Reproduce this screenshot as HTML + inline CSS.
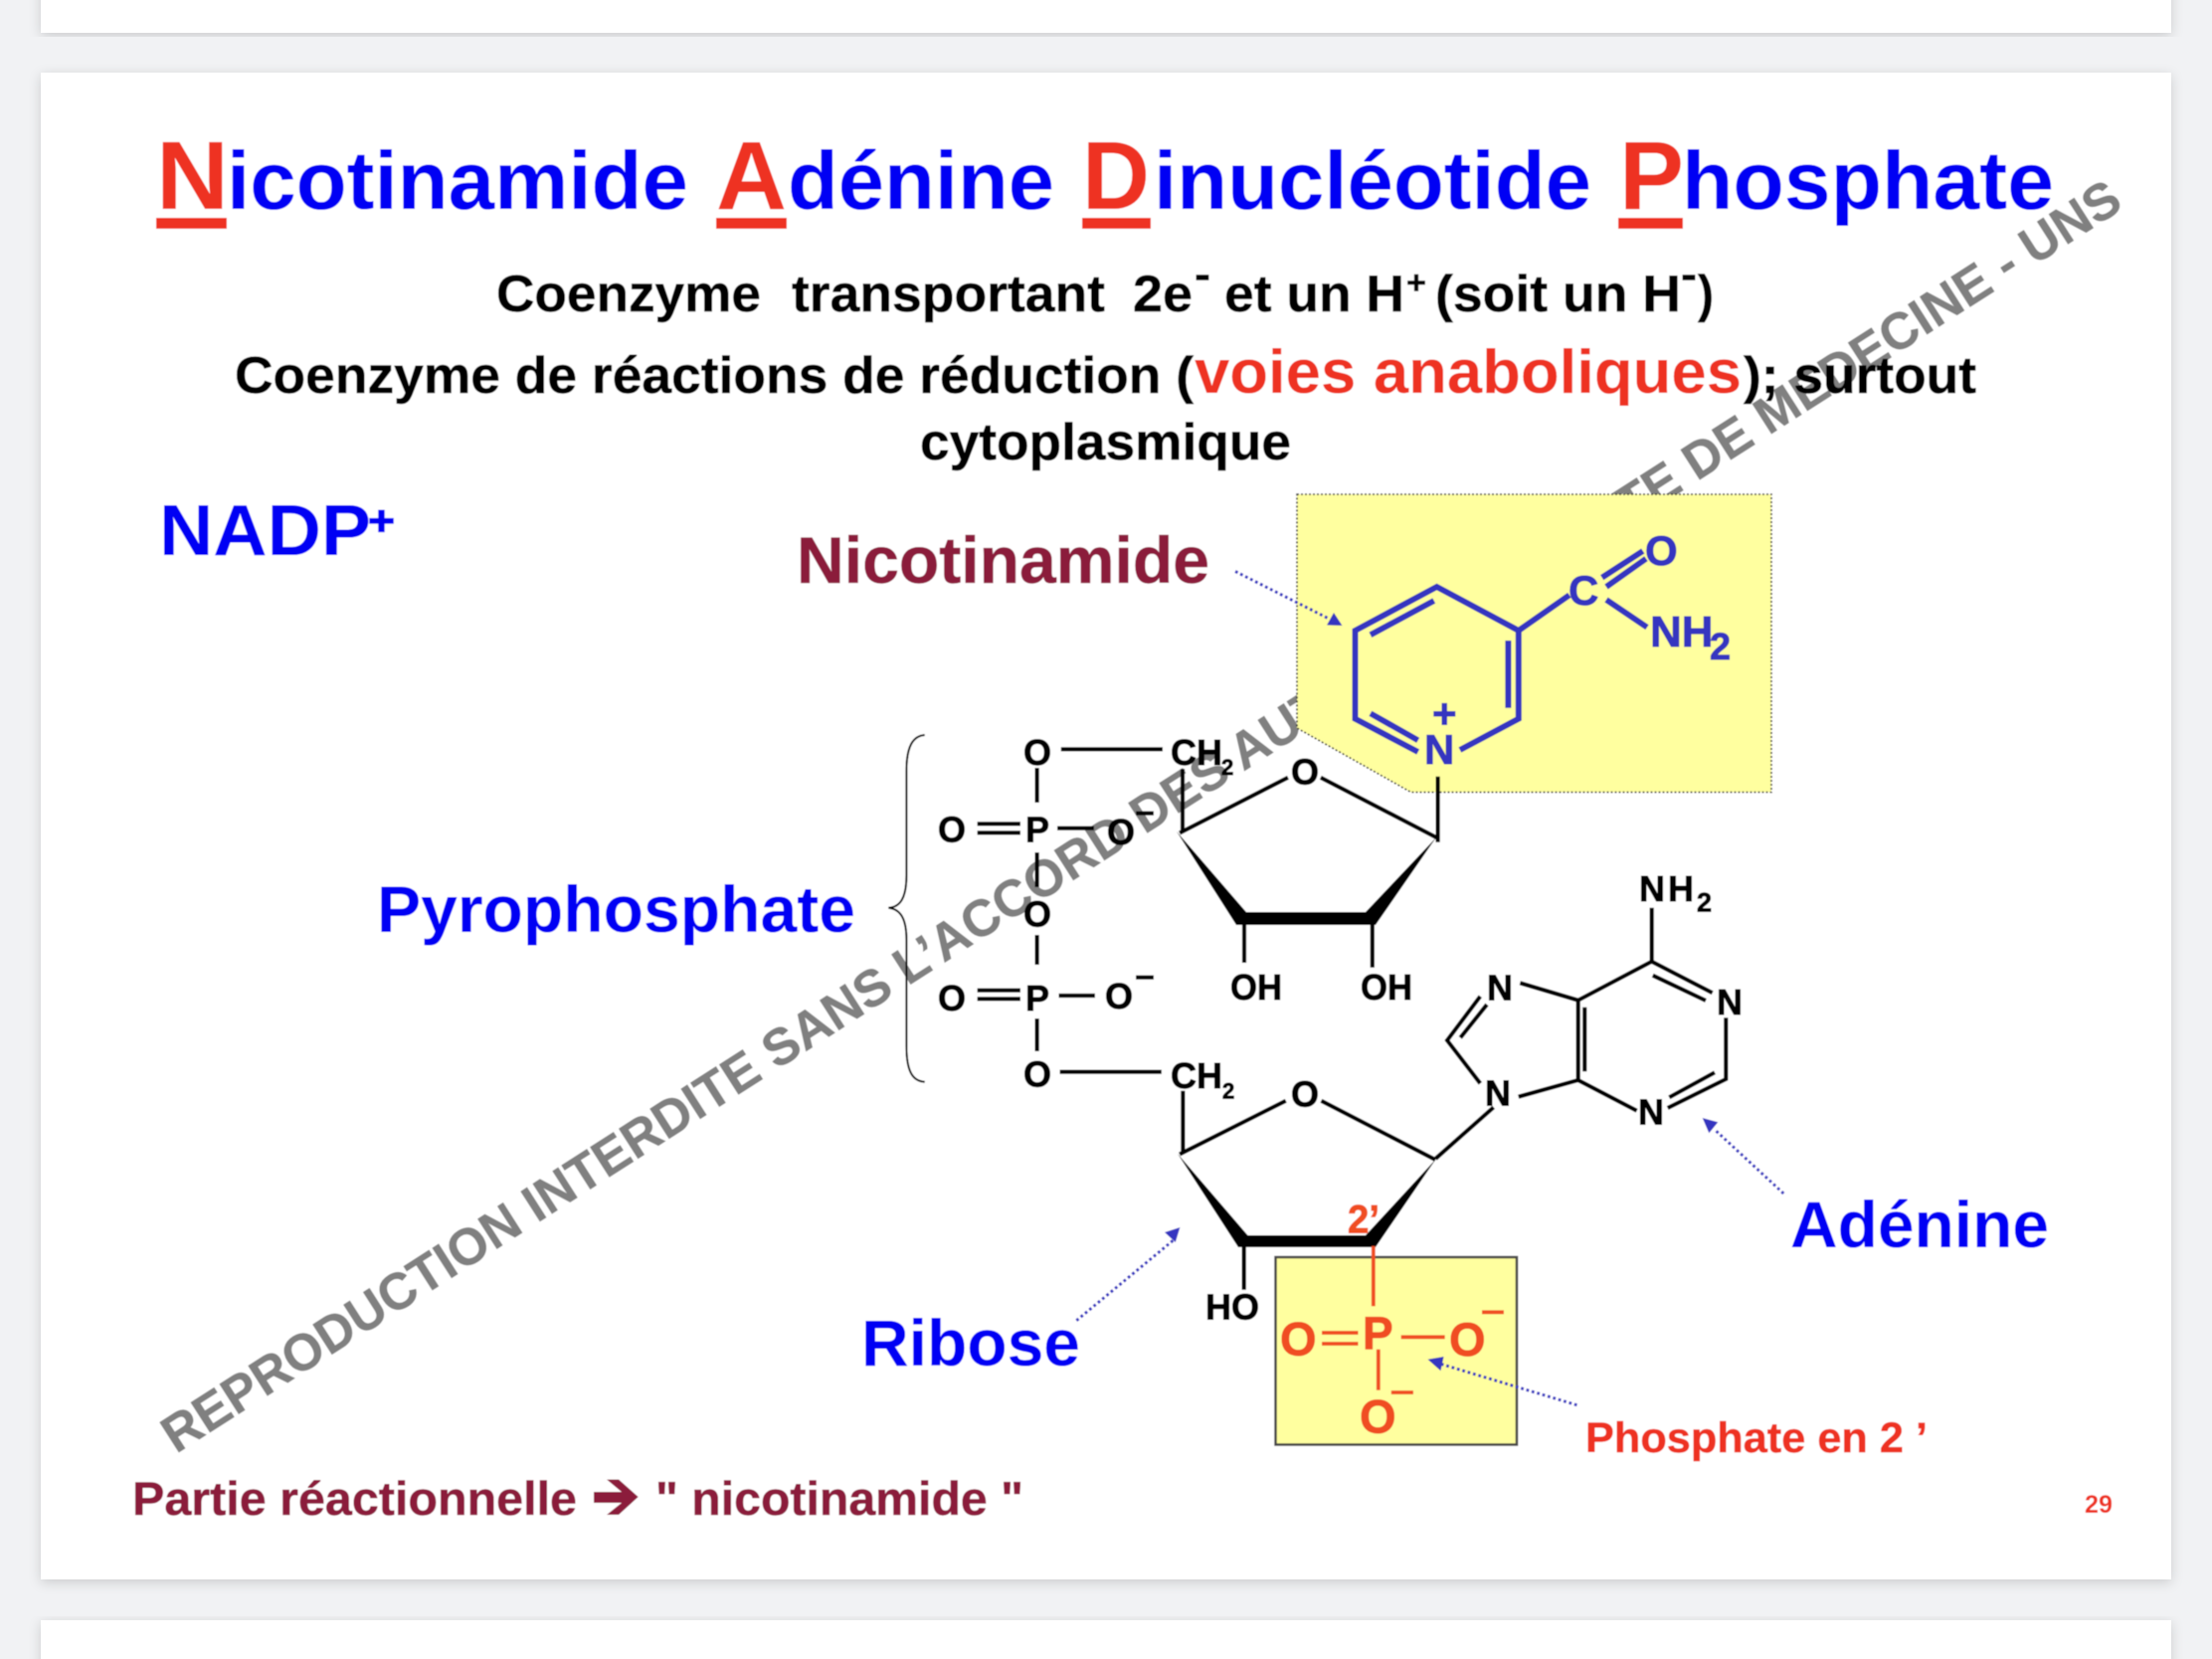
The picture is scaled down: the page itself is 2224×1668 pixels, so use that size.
<!DOCTYPE html>
<html><head><meta charset="utf-8"><style>
html,body{margin:0;padding:0;background:#f1f2f4;width:2224px;height:1668px;overflow:hidden}
svg{display:block}
text{font-family:"Liberation Sans",Arial,sans-serif;font-weight:bold}
</style></head><body>
<svg xmlns="http://www.w3.org/2000/svg" width="2224" height="1668" viewBox="0 0 2224 1668">
<defs>
<filter id="sh" x="-5%" y="-5%" width="110%" height="110%"><feDropShadow dx="0" dy="3" stdDeviation="6" flood-color="#000" flood-opacity="0.16"/></filter>
<filter id="soft" x="0" y="0" width="100%" height="100%" filterUnits="objectBoundingBox"><feGaussianBlur stdDeviation="0.45"/></filter>
</defs>
<rect x="0" y="0" width="2224" height="1668" fill="#f1f2f4"/>
<rect x="41" y="-40" width="2142" height="73" fill="#fff" filter="url(#sh)"/>
<rect x="41" y="73" width="2142" height="1515" fill="#fff" filter="url(#sh)"/>
<rect x="41" y="1629" width="2142" height="80" fill="#fff" filter="url(#sh)"/>

<g filter="url(#soft)">
<rect x="41" y="73" width="2142" height="1515" fill="#fff"/>
<!-- watermark -->
<text transform="translate(177,1462) rotate(-32.6)" font-size="52" fill="#808080" stroke="#808080" stroke-width="0.5" textLength="2326" lengthAdjust="spacingAndGlyphs">REPRODUCTION INTERDITE SANS L’ACCORD DES AUTEURS - FACULTE DE MEDECINE - UNS</text>

<!-- title -->
<g font-size="97" fill="#ee3224">
<text x="157" y="210" textLength="73" lengthAdjust="spacingAndGlyphs">N</text>
<text x="720" y="210" textLength="71" lengthAdjust="spacingAndGlyphs">A</text>
<text x="1088" y="210" textLength="68" lengthAdjust="spacingAndGlyphs">D</text>
<text x="1628" y="210" textLength="65" lengthAdjust="spacingAndGlyphs">P</text>
</g>
<g fill="#ee3224">
<rect x="157" y="219" width="71" height="11"/>
<rect x="720" y="219" width="71" height="11"/>
<rect x="1088" y="219" width="69" height="11"/>
<rect x="1627" y="219" width="65" height="11"/>
</g>
<g font-size="83" fill="#0000f4">
<text x="228" y="210" textLength="464" lengthAdjust="spacingAndGlyphs">icotinamide</text>
<text x="792" y="210" textLength="268" lengthAdjust="spacingAndGlyphs">dénine</text>
<text x="1160" y="210" textLength="440" lengthAdjust="spacingAndGlyphs">inucléotide</text>
<text x="1691" y="210" textLength="374" lengthAdjust="spacingAndGlyphs">hosphate</text>
</g>

<!-- subtitle lines -->
<g font-size="52" fill="#000" stroke="#000" stroke-width="0.5">
<text x="499" y="313" textLength="266" lengthAdjust="spacingAndGlyphs">Coenzyme</text>
<text x="796" y="313" textLength="315" lengthAdjust="spacingAndGlyphs">transportant</text>
<text x="1139" y="313" textLength="60" lengthAdjust="spacingAndGlyphs">2e</text>
<text x="1201" y="290" font-size="42" textLength="16" lengthAdjust="spacingAndGlyphs">-</text>
<text x="1231" y="313" textLength="181" lengthAdjust="spacingAndGlyphs">et un H</text>
<text x="1414" y="295" font-size="32" textLength="20" lengthAdjust="spacingAndGlyphs">+</text>
<text x="1443" y="313" textLength="247" lengthAdjust="spacingAndGlyphs">(soit un H</text>
<text x="1690" y="290" font-size="42" textLength="16" lengthAdjust="spacingAndGlyphs">-</text>
<text x="1707" y="313" textLength="16" lengthAdjust="spacingAndGlyphs">)</text>
<text x="236" y="395" textLength="964" lengthAdjust="spacingAndGlyphs">Coenzyme de réactions de réduction (</text>
<text x="1753" y="395" textLength="234" lengthAdjust="spacingAndGlyphs">); surtout</text>
<text x="925" y="462" textLength="373" lengthAdjust="spacingAndGlyphs">cytoplasmique</text>
</g>
<text x="1201" y="395" font-size="62" fill="#ee3224" textLength="550" lengthAdjust="spacingAndGlyphs">voies anaboliques</text>

<!-- big labels -->
<text x="160" y="558" font-size="72" fill="#0000f4" textLength="213" lengthAdjust="spacingAndGlyphs">NADP</text>
<text x="370" y="538" font-size="42" fill="#0000f4" stroke="#0000f4" stroke-width="1.2" textLength="27" lengthAdjust="spacingAndGlyphs">+</text>
<text x="801" y="586" font-size="66" fill="#8b1a3a" stroke="#8b1a3a" stroke-width="0.5" textLength="415" lengthAdjust="spacingAndGlyphs">Nicotinamide</text>
<text x="379" y="937" font-size="66" fill="#0000f4" textLength="481" lengthAdjust="spacingAndGlyphs">Pyrophosphate</text>
<text x="1800" y="1254" font-size="66" fill="#0000f4" textLength="260" lengthAdjust="spacingAndGlyphs">Adénine</text>
<text x="866" y="1373" font-size="66" fill="#0000f4" textLength="220" lengthAdjust="spacingAndGlyphs">Ribose</text>
<g font-size="47" fill="#8b1a3a" stroke="#8b1a3a" stroke-width="0.5">
<text x="133" y="1523" textLength="447" lengthAdjust="spacingAndGlyphs">Partie réactionnelle</text>
<text x="659" y="1523" textLength="370" lengthAdjust="spacingAndGlyphs">" nicotinamide "</text>
</g>
<polygon points="597,1500 625,1500 610,1487.5 622,1487.5 641.7,1505 622,1523 610,1523 625,1511 597,1511" fill="#8b1a3a"/>
<text x="1594" y="1460" font-size="43" fill="#ee3224" stroke="#ee3224" stroke-width="0.5" textLength="344" lengthAdjust="spacingAndGlyphs">Phosphate en 2 ’</text>
<text x="2096" y="1521" font-size="25" fill="#ee3224" textLength="28" lengthAdjust="spacingAndGlyphs">29</text>

<!-- yellow boxes -->
<polygon points="1304,497 1781,497 1781,796.5 1418.6,796.5 1304,732" fill="#ffff9f" stroke="#333" stroke-width="1.6" stroke-dasharray="2 2"/>
<rect x="1282.5" y="1264" width="242.5" height="188.5" fill="#ffff9f" stroke="#444" stroke-width="2.5"/>

<!-- nicotinamide -->
<g stroke="#3535c0" stroke-width="6" fill="none" stroke-linecap="butt">
<polyline points="1425.7,756 1362.5,722.7 1362.5,634 1444.6,590 1526.8,634 1526.8,722.7 1467.9,754" stroke-linejoin="miter"/>
<line x1="1377.9" y1="638.3" x2="1441.8" y2="604"/>
<line x1="1516.4" y1="644" x2="1516.4" y2="711.7"/>
<line x1="1377.9" y1="717.3" x2="1425.7" y2="744.3"/>
<line x1="1526.8" y1="634" x2="1577.9" y2="598.3"/>
<line x1="1610.7" y1="580.7" x2="1651.8" y2="554"/>
<line x1="1615" y1="590" x2="1655" y2="561.7"/>
<line x1="1615" y1="603" x2="1656" y2="630.7"/>
</g>
<g fill="#3535c0" stroke="#3535c0" stroke-width="0.9" font-size="42">
<text x="1577" y="608">C</text>
<text x="1654" y="568">O</text>
<text x="1659" y="650" font-size="44">NH</text>
<text x="1719" y="663" font-size="38">2</text>
<text x="1432" y="768">N</text>
<text x="1440" y="732">+</text>
</g>

<!-- dotted arrows -->
<g stroke="#3535c0" stroke-width="3" stroke-dasharray="2.8 2.8" fill="none">
<line x1="1242" y1="574.5" x2="1336" y2="622"/>
<line x1="1793.3" y1="1200" x2="1725" y2="1136.7"/>
<line x1="1082.3" y1="1327.7" x2="1180" y2="1246.7"/>
<line x1="1585.5" y1="1412.7" x2="1449.7" y2="1371.7"/>
</g>
<g fill="#3535c0">
<polygon points="1341,616 1334,628.5 1349.5,629"/>
<polygon points="1711.7,1124 1727.3,1128.3 1718.3,1139.3"/>
<polygon points="1186.4,1234 1171,1239 1181.8,1249"/>
<polygon points="1435.5,1366.7 1451.6,1364 1448.5,1378.3"/>
</g>

<!-- brace -->
<path d="M929.7,739 C918,740 911.4,750 911.4,775 L911.4,880 C911.4,903 905,912 893.4,912.7 C905,914 911.4,923 911.4,945 L911.4,1052 C911.4,1078 918,1087 929.7,1087.7" fill="none" stroke="#000" stroke-width="2"/>

<!-- black bonds -->
<g stroke="#000" stroke-width="4.2" fill="none">
<line x1="1066.8" y1="753.3" x2="1169" y2="753.3"/>
<line x1="1042.6" y1="772" x2="1042.6" y2="807"/>
<line x1="982.6" y1="828.3" x2="1026" y2="828.3"/>
<line x1="982.6" y1="837.3" x2="1026" y2="837.3"/>
<line x1="1063" y1="832.7" x2="1100" y2="832.7"/>
<line x1="1142" y1="817.7" x2="1160" y2="817.7"/>
<line x1="1042.6" y1="857" x2="1042.6" y2="892"/>
<line x1="1042.6" y1="940" x2="1042.6" y2="970"/>
<line x1="982.6" y1="995.7" x2="1026" y2="995.7"/>
<line x1="982.6" y1="1004.3" x2="1026" y2="1004.3"/>
<line x1="1064.5" y1="1001" x2="1101" y2="1001"/>
<line x1="1142" y1="982.7" x2="1160" y2="982.7"/>
<line x1="1042.6" y1="1024" x2="1042.6" y2="1057"/>
<line x1="1065.6" y1="1077.7" x2="1167.8" y2="1077.7"/>
<!-- ribose 1 -->
<line x1="1189" y1="773" x2="1189" y2="835"/>
<line x1="1186" y1="837.5" x2="1295" y2="781.7"/>
<line x1="1327.8" y1="781.7" x2="1445.6" y2="842.7"/>
<line x1="1445.6" y1="780.7" x2="1445.6" y2="846.7"/>
<line x1="1251" y1="928" x2="1251" y2="968"/>
<line x1="1379.8" y1="928" x2="1379.8" y2="972.7"/>
<!-- ribose 2 -->
<line x1="1189.4" y1="1096.7" x2="1189.4" y2="1160"/>
<line x1="1186" y1="1160.5" x2="1292.8" y2="1106.7"/>
<line x1="1328.4" y1="1106.7" x2="1443.2" y2="1166"/>
<line x1="1250.7" y1="1253" x2="1250.7" y2="1296.7"/>
<!-- adenine -->
<line x1="1660.7" y1="912.7" x2="1660.7" y2="966.7"/>
<polyline points="1586.7,1005.7 1660.7,966.7 1721.7,998.3"/>
<line x1="1661.7" y1="980.7" x2="1715" y2="1006"/>
<polyline points="1735.3,1023.3 1735.3,1085 1676.7,1114"/>
<line x1="1724" y1="1078.3" x2="1678.3" y2="1103.3"/>
<line x1="1586.7" y1="1086" x2="1645.7" y2="1116.7"/>
<line x1="1586.7" y1="1005" x2="1586.7" y2="1086.7"/>
<line x1="1593.3" y1="1012.7" x2="1593.3" y2="1077.3"/>
<line x1="1528.3" y1="988.3" x2="1586.7" y2="1005.7"/>
<line x1="1526.7" y1="1102.7" x2="1586.7" y2="1086"/>
<polyline points="1488.3,1001.7 1455,1046 1488.3,1089.3"/>
<line x1="1468.3" y1="1043.3" x2="1495" y2="1010"/>
<line x1="1501.7" y1="1113.3" x2="1443.3" y2="1165"/>
</g>
<g fill="#000">
<polygon points="1183,836 1253,917 1373,917 1444,842 1383,930 1243,930"/>
<polygon points="1184,1160 1254.5,1242 1373,1242 1444,1165 1383,1254 1245,1254"/>
</g>
<g fill="#000" stroke="#000" stroke-width="0.9" font-size="36">
<text x="1029" y="769">O</text>
<text x="1177" y="769">CH</text>
<text x="1228" y="779" font-size="22">2</text>
<text x="943" y="846.7">O</text>
<text x="1031" y="846.7">P</text>
<text x="1113" y="849">O</text>
<text x="1029" y="931.7">O</text>
<text x="943" y="1016">O</text>
<text x="1031" y="1016">P</text>
<text x="1111" y="1014">O</text>
<text x="1029" y="1092.7">O</text>
<text x="1177" y="1094">CH</text>
<text x="1229" y="1104.5" font-size="22">2</text>
<text x="1298" y="788.3">O</text>
<text x="1298" y="1112.3">O</text>
<text x="1237" y="1005" textLength="52" lengthAdjust="spacingAndGlyphs">OH</text>
<text x="1368" y="1005" textLength="52" lengthAdjust="spacingAndGlyphs">OH</text>
<text x="1212" y="1326.7" textLength="54" lengthAdjust="spacingAndGlyphs">HO</text>
<text x="1648" y="906">N</text>
<text x="1677" y="906">H</text>
<text x="1706" y="916.7" font-size="27">2</text>
<text x="1726" y="1020">N</text>
<text x="1647" y="1130.7">N</text>
<text x="1495" y="1005.7">N</text>
<text x="1493" y="1111.7">N</text>
</g>

<!-- phosphate -->
<g stroke="#f04e23" stroke-width="3.8" fill="none">
<line x1="1380.8" y1="1252.7" x2="1380.8" y2="1313.3"/>
<line x1="1329" y1="1340" x2="1365.5" y2="1340"/>
<line x1="1329" y1="1351" x2="1365.5" y2="1351"/>
<line x1="1408.7" y1="1344.3" x2="1452.7" y2="1344.3"/>
<line x1="1490" y1="1319.3" x2="1512" y2="1319.3"/>
<line x1="1385.8" y1="1356.7" x2="1385.8" y2="1397.7"/>
<line x1="1398.8" y1="1400" x2="1421" y2="1400"/>
</g>
<g fill="#f04e23" stroke="#f04e23" stroke-width="0.9" font-size="47">
<text x="1287" y="1362.7">O</text>
<text x="1370" y="1356.7" font-size="46">P</text>
<text x="1457" y="1363">O</text>
<text x="1367" y="1440.7">O</text>
<text x="1355" y="1239.3" font-size="40" textLength="32" lengthAdjust="spacingAndGlyphs">2’</text>
</g>
</g>
</svg>
</body></html>
